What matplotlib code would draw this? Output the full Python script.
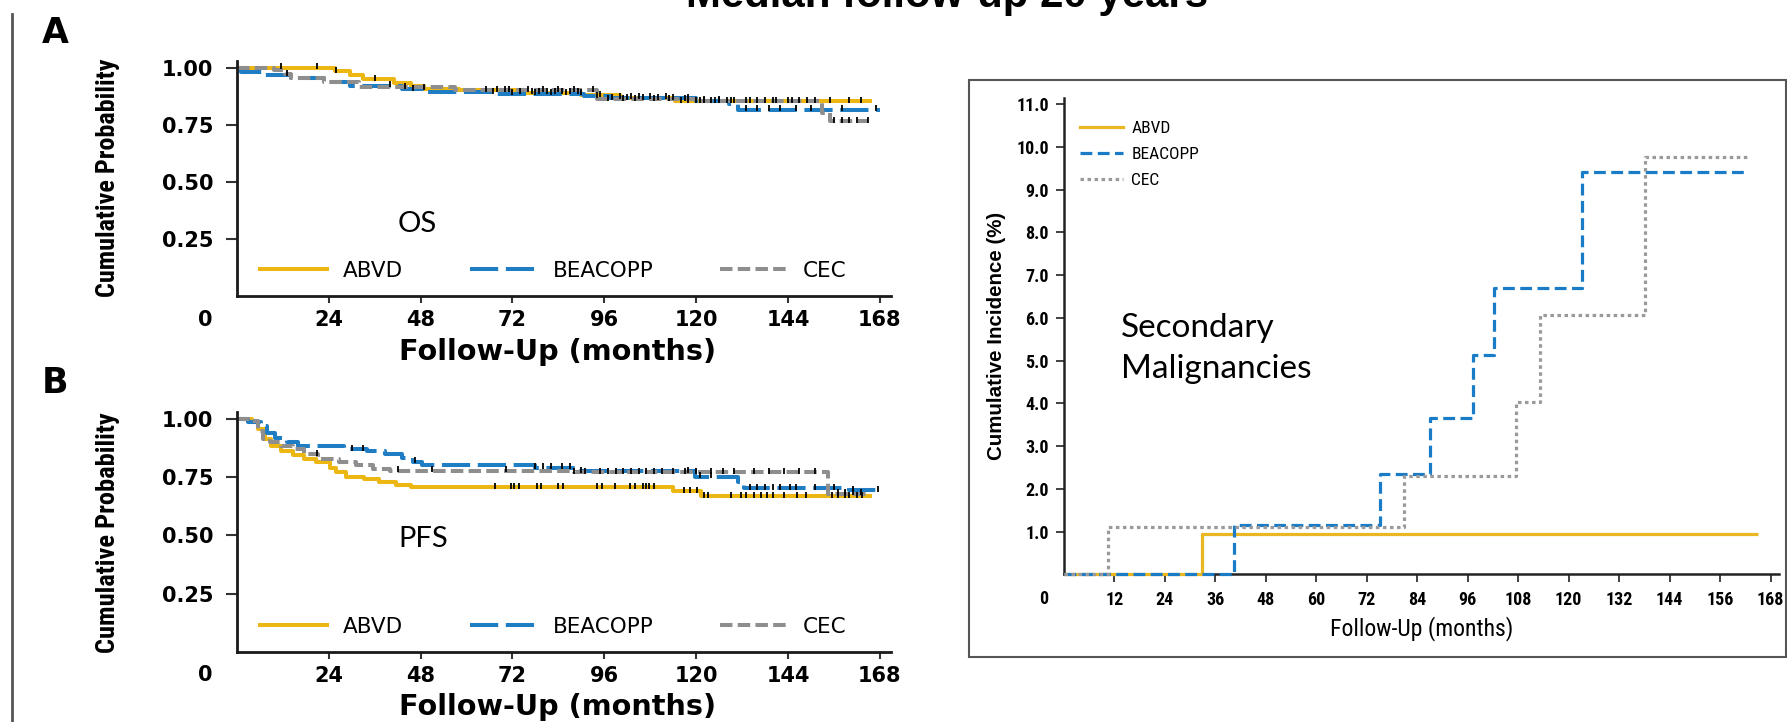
import numpy as np
import matplotlib
matplotlib.use("Agg")
import matplotlib.pyplot as plt
from matplotlib import font_manager
from matplotlib.lines import Line2D
from matplotlib.patches import Rectangle

# ---------------- data ----------------
arms = ["ABVD", "BEACOPP", "CEC"]

# Overall survival: step times (months) and survival probability after each step
os_abvd_t = [0, 25.6, 29.5, 33, 41, 45.5, 49, 58, 74, 90, 100, 114.5, 166]
os_abvd_s = [1.0, 0.983, 0.965, 0.948, 0.932, 0.918, 0.907, 0.900, 0.890, 0.880, 0.868, 0.852, 0.852]
os_beacopp_t = [0, 1, 7, 14, 22.8, 29.5, 43, 49, 68, 90.7, 97.5, 120, 128.5, 131, 168]
os_beacopp_s = [1.0, 0.98, 0.967, 0.953, 0.935, 0.92, 0.905, 0.893, 0.885, 0.875, 0.865, 0.855, 0.842, 0.815, 0.812]
os_cec_t = [0, 9.7, 12.5, 14, 22.7, 32, 57, 94, 120, 153, 155, 165]
os_cec_s = [1.0, 0.99, 0.972, 0.955, 0.935, 0.915, 0.90, 0.862, 0.852, 0.80, 0.765, 0.765]

# Censoring times (months)
os_abvd_cens = [11.5, 21, 26, 36, 49, 68, 70, 74, 77, 79, 81, 83, 85, 87, 89, 95, 100, 103,
                105, 108, 112, 116, 118, 120, 122, 124, 126, 128, 130, 133, 136, 138, 141,
                144, 147, 151, 155, 160, 163]
os_beacopp_cens = [40, 46, 67, 72, 78, 82, 86, 90, 94, 98, 102, 106, 110, 114, 118, 122, 126,
                   133, 136, 139, 142, 146, 150, 158, 167]
os_cec_cens = [13, 44, 65, 71, 76, 80, 84, 88, 93, 97, 101, 104, 109, 113, 117, 121, 125, 129,
               134, 140, 145, 149, 156, 158, 160, 162, 165]

# Progression-free survival
pfs_abvd_t = [0, 4, 5.6, 7.4, 8.9, 11.6, 14.6, 17.6, 20.6, 24.4, 26, 28.4, 33.3, 37, 41.6,
              45.4, 114, 121.3, 166]
pfs_abvd_s = [1.0, 0.985, 0.956, 0.915, 0.882, 0.862, 0.843, 0.828, 0.813, 0.79, 0.77, 0.752,
              0.74, 0.727, 0.716, 0.706, 0.69, 0.668, 0.668]
pfs_beacopp_t = [0, 3, 6.3, 7.8, 10, 13, 16, 28, 34, 38.6, 43, 46, 48.3, 78, 90, 119.6, 131,
                 132.5, 160, 168]
pfs_beacopp_s = [1.0, 0.985, 0.97, 0.941, 0.92, 0.90, 0.885, 0.87, 0.86, 0.849, 0.832, 0.817,
                 0.80, 0.79, 0.775, 0.752, 0.73, 0.703, 0.695, 0.695]
pfs_cec_t = [0, 4, 5.6, 6.8, 8.6, 11.6, 14.6, 17.6, 21.3, 26.6, 31, 35.5, 40, 88, 154.5, 165]
pfs_cec_s = [1.0, 0.99, 0.95, 0.913, 0.899, 0.884, 0.87, 0.849, 0.827, 0.817, 0.80, 0.785,
             0.777, 0.77, 0.678, 0.678]

pfs_abvd_cens = [67.5, 71.5, 72.5, 73.8, 78.3, 79.5, 84, 85.3, 94.2, 95.4, 98.7, 102.7, 104,
                 106, 107, 107.8, 108.9, 116.8, 118.5, 120.2, 122, 123, 129, 131.6, 133, 135,
                 137, 138.4, 140, 142.9, 146.3, 148.6, 155.4, 157, 158.8, 160, 162, 163.3]
pfs_beacopp_cens = [30, 33, 46.5, 78, 80, 82, 85, 87, 90, 118, 121, 124, 134, 136, 138, 140,
                    142, 144.5, 146, 151, 156, 161, 167.5]
pfs_cec_cens = [21, 42, 51, 70.4, 88, 91, 95, 97, 99, 101, 103, 105, 107, 109, 111, 114, 117,
                120, 124, 127, 130, 135, 139, 143, 147, 151, 157, 159, 161, 163]

# Cumulative incidence of secondary malignancies (%)
cif_abvd_t = [0, 32.8, 165]
cif_abvd_v = [0, 0.94, 0.94]
cif_beacopp_t = [0, 40.4, 75.2, 87.1, 97.2, 102.3, 123.1, 162]
cif_beacopp_v = [0, 1.16, 2.36, 3.65, 5.13, 6.69, 9.42, 9.42]
cif_cec_t = [0, 10.5, 80.8, 107.5, 113.2, 138.2, 163]
cif_cec_v = [0, 1.11, 2.30, 4.03, 6.07, 9.76, 9.76]

km_xticks = [24, 48, 72, 96, 120, 144, 168]
km_yticks = [0.25, 0.50, 0.75, 1.00]
km_ylabels = ["0.25", "0.50", "0.75", "1.00"]
cif_xticks = list(range(12, 169, 12))
cif_yticks = list(range(1, 12))

title = "Median follow-up 20 years"

# ---------------- fonts ----------------
available = {f.name for f in font_manager.fontManager.ttflist}


def pick(*names):
    for n in names:
        if n in available:
            return n
    return "DejaVu Sans"


WIDE = "DejaVu Sans"
NARROW = pick("Liberation Sans Narrow", "Roboto Condensed", "Liberation Sans")
SANS = pick("Liberation Sans", "Arial", "DejaVu Sans")
HUMAN = pick("Lato", "Open Sans", "Noto Sans")

# ---------------- styles ----------------
km_colors = {"ABVD": "#EDB713", "BEACOPP": "#1F7DC4", "CEC": "#8E8E8E"}
km_ls = {"ABVD": "-", "BEACOPP": (0, (7, 1.9)), "CEC": (0, (3.1, 1.3))}
cif_colors = {"ABVD": "#E9B722", "BEACOPP": "#1A7BC6", "CEC": "#9A9A9A"}
cif_ls = {"ABVD": "-", "BEACOPP": (0, (3.7, 1.7)), "CEC": (0, (1.1, 1.1))}

W, H = 1787, 722
fig = plt.figure(figsize=(W / 100, H / 100), dpi=100)
renderer = fig.canvas.get_renderer()


def fx(px):
    return px / W


def fy(py):
    return 1 - py / H


def fit(txt, target, along="x"):
    bb = txt.get_window_extent(renderer)
    size = bb.width if along == "x" else bb.height
    txt.set_fontsize(txt.get_fontsize() * target / size)


def km_panel(rect, curves, label_y, ylabel_center, xlabel_center, zero_pos, legend_y,
             tag, tag_pos, note, note_pos):
    ax = fig.add_axes(rect)
    for name, (t, s, cens) in zip(arms, curves):
        t = np.asarray(t, float)
        s = np.asarray(s, float)
        ax.step(t, s, where="post", color=km_colors[name], lw=2.9, ls=km_ls[name],
                solid_capstyle="butt", dash_capstyle="butt", zorder=2)
        c = np.asarray(cens, float)
        idx = np.searchsorted(t, c, side="right") - 1
        ax.plot(c, s[idx] + 0.006, ls="none", marker="|", ms=5, mew=1.3,
                color="black", zorder=3)
    ax.set_xlim(0, 171)
    ax.set_ylim(0, 1.03)
    for side in ("top", "right"):
        ax.spines[side].set_visible(False)
    for side in ("left", "bottom"):
        ax.spines[side].set_linewidth(2.0)
        ax.spines[side].set_color("#1a1a1a")
    ax.set_xticks(km_xticks, [str(v) for v in km_xticks], fontsize=15,
                  fontweight="bold", family=WIDE)
    ax.set_yticks(km_yticks, km_ylabels, fontsize=15, fontweight="bold", family=WIDE)
    ax.tick_params(axis="y", length=8, width=1.5, color="#333333", pad=9)
    ax.tick_params(axis="x", length=5, width=1.5, color="#333333", pad=5)

    handles = [Line2D([], [], color=km_colors[n], lw=2.9, ls=km_ls[n]) for n in arms]
    ax.legend(handles, arms, ncol=3, frameon=False, loc="center left",
              bbox_to_anchor=(fx(260), fy(legend_y)), bbox_transform=fig.transFigure,
              borderpad=0, borderaxespad=0, handlelength=3.1, handletextpad=0.75,
              columnspacing=3.1, prop={"family": WIDE, "size": 15.5})

    fig.text(fx(zero_pos[0]), fy(zero_pos[1]), "0", ha="center", va="center",
             fontsize=15, fontweight="bold", family=WIDE)
    yl = fig.text(fx(ylabel_center[0]), fy(ylabel_center[1]), "Cumulative Probability",
                  rotation=90, ha="center", va="center", family=NARROW,
                  fontweight="bold", fontsize=18)
    fit(yl, label_y, along="y")
    xl = fig.text(fx(xlabel_center[0]), fy(xlabel_center[1]), "Follow-Up (months)",
                  ha="center", va="center", family=WIDE, fontweight="bold", fontsize=19)
    fit(xl, 318)
    fig.text(fx(tag_pos[0]), fy(tag_pos[1]), tag, ha="center", va="center",
             family=WIDE, fontweight="bold", fontsize=25)
    fig.text(fx(note_pos[0]), fy(note_pos[1]), note, ha="left", va="baseline",
             family=HUMAN, fontsize=21)
    return ax


# Panel A: overall survival
km_panel([fx(237), fy(296), 171 * 3.826 / W, 1.03 * 228.5 / H],
         [(os_abvd_t, os_abvd_s, os_abvd_cens),
          (os_beacopp_t, os_beacopp_s, os_beacopp_cens),
          (os_cec_t, os_cec_s, os_cec_cens)],
         237, (108, 178), (558, 352), (205, 320), 271, "A", (55, 33), "OS", (398, 232))

# Panel B: progression-free survival
km_panel([fx(237), fy(651.7), 171 * 3.826 / W, 1.026 * 233.7 / H],
         [(pfs_abvd_t, pfs_abvd_s, pfs_abvd_cens),
          (pfs_beacopp_t, pfs_beacopp_s, pfs_beacopp_cens),
          (pfs_cec_t, pfs_cec_s, pfs_cec_cens)],
         240, (108, 533), (558, 707), (205, 675), 626.7, "B", (55, 383), "PFS", (398, 547))

# Right panel: cumulative incidence of secondary malignancies
ax3 = fig.add_axes([fx(1064), fy(574.4), 170 * 4.206 / W, 11.15 * 42.74 / H])
for name, t, v in zip(arms, [cif_abvd_t, cif_beacopp_t, cif_cec_t],
                      [cif_abvd_v, cif_beacopp_v, cif_cec_v]):
    ax3.step(t, v, where="post", color=cif_colors[name], lw=2.3, ls=cif_ls[name],
             solid_capstyle="butt", dash_capstyle="butt", clip_on=False, zorder=3)
ax3.set_xlim(0, 170)
ax3.set_ylim(0, 11.15)
for side in ("top", "right"):
    ax3.spines[side].set_visible(False)
for side in ("left", "bottom"):
    ax3.spines[side].set_linewidth(1.8)
    ax3.spines[side].set_color("#222222")
ax3.set_xticks(cif_xticks, [str(v) for v in cif_xticks], fontsize=13, family=NARROW,
               fontweight="bold")
ax3.set_yticks(cif_yticks, [f"{v:.1f}" for v in cif_yticks], fontsize=13, family=NARROW,
               fontweight="bold")
ax3.tick_params(axis="both", length=6, width=1.3, color="#333333")
ax3.tick_params(axis="y", pad=5)
ax3.tick_params(axis="x", pad=6)

handles = [Line2D([], [], color=cif_colors[n], lw=2.3, ls=cif_ls[n]) for n in arms]
ax3.legend(handles, arms, loc="upper left", frameon=False,
           bbox_to_anchor=(fx(1080), fy(121)), bbox_transform=fig.transFigure,
           borderpad=0, borderaxespad=0, handlelength=2.5, handletextpad=0.45,
           labelspacing=0.62, prop={"family": NARROW, "size": 12.5})

fig.text(fx(1044), fy(599), "0", ha="center", va="center", fontsize=13, family=NARROW,
         fontweight="bold")
xl3 = fig.text(fx(1421.5), fy(629), "Follow-Up (months)", ha="center", va="center",
               family=NARROW, fontsize=15)
fit(xl3, 185)
yl3 = fig.text(fx(997), fy(336), "Cumulative Incidence (%)", rotation=90, ha="center",
               va="center", family=SANS, fontweight="bold", fontsize=15)
fit(yl3, 250, along="y")
fig.text(fx(1121), fy(337), "Secondary", ha="left", va="baseline", family=HUMAN,
         fontsize=24)
fig.text(fx(1121), fy(378), "Malignancies", ha="left", va="baseline", family=HUMAN,
         fontsize=24)

# Frame around the right panel and rule along the left edge
fig.add_artist(Rectangle((fx(969), fy(657)), fx(1786) - fx(969), fy(80) - fy(657),
                         transform=fig.transFigure, fill=False, ec="#555555", lw=1.5))
fig.add_artist(Line2D([fx(12), fx(12)], [fy(14), fy(722)], transform=fig.transFigure,
                      color="#555555", lw=2.0))

# Title, partly above the top edge
tt = fig.text(fx(947.5), fy(7), title, ha="center", va="baseline", family=SANS,
              fontweight="bold", fontsize=30)
fit(tt, 523)

fig.savefig("out.png", dpi=100)
